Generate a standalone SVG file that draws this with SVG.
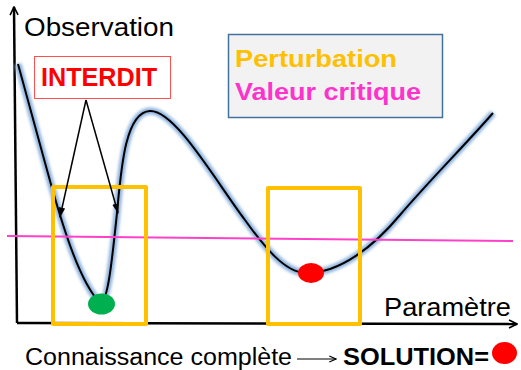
<svg xmlns="http://www.w3.org/2000/svg" width="521" height="370" viewBox="0 0 521 370">
<defs>
<style>
.t{font-family:"Liberation Sans",Arial,sans-serif;}
.b{font-weight:bold;}
.axis{stroke:#000;stroke-width:2.5;fill:none;}
.obox{fill:none;stroke:#ffc000;stroke-width:4;stroke-linejoin:round;}
.thin{stroke:#000;stroke-width:1.5;fill:none;}
</style>
<filter id="glow" x="-10%" y="-10%" width="120%" height="120%"><feGaussianBlur stdDeviation="1.5"/></filter>
<marker id="open" viewBox="0 0 10 10" refX="9" refY="5" markerWidth="4" markerHeight="4" orient="auto" markerUnits="strokeWidth"><path d="M1,1 L9,5 L1,9" fill="none" stroke="#000" stroke-width="1.6"/></marker>
<marker id="open2" viewBox="0 0 10 10" refX="9" refY="5" markerWidth="7" markerHeight="7" orient="auto" markerUnits="strokeWidth"><path d="M1,1.5 L9,5 L1,8.5" fill="none" stroke="#000" stroke-width="1.4"/></marker>
<marker id="fill" viewBox="0 0 10 10" refX="9" refY="5" markerWidth="7" markerHeight="7" orient="auto" markerUnits="strokeWidth"><path d="M0,2 L10,5 L0,8 z" fill="#000"/></marker>
</defs>
<rect width="521" height="370" fill="#fff"/>
<g id="axes">
<path class="axis" d="M17,323 L14,7" marker-end="url(#open)"/>
<path class="axis" d="M17,323 L517,324" marker-end="url(#open)"/>
</g>
<g id="curve">
<path d="M18,64 C28,100 40,145 52,188 C64,230 80,282 100,303 C108,303 112,260 117,213 C121,170 125,112 150,111 C175,110 215,180 245,220 C265,248 285,272 305,273 C340,274 375,245 400,215 C430,180 465,145 493,113" fill="none" stroke="#8fb4de" stroke-width="7" filter="url(#glow)"/>
<path d="M18,64 C28,100 40,145 52,188 C64,230 80,282 100,303 C108,303 112,260 117,213 C121,170 125,112 150,111 C175,110 215,180 245,220 C265,248 285,272 305,273 C340,274 375,245 400,215 C430,180 465,145 493,113" fill="none" stroke="#000" stroke-width="2"/>
</g>
<g id="critical-line">
<line x1="7" y1="236" x2="513" y2="241" stroke="#ff40c8" stroke-width="2"/>
</g>
<g id="box-left"><rect class="obox" x="53" y="187" width="93" height="137"/></g>
<g id="box-right"><rect class="obox" x="268" y="188" width="92" height="136"/></g>
<g id="dot-green"><ellipse cx="101.5" cy="304" rx="13.5" ry="10.5" fill="#00b050"/></g>
<g id="dot-red"><ellipse cx="311" cy="273" rx="13" ry="10" fill="#ff0000"/></g>
<g id="interdit">
<rect x="34.5" y="56.5" width="136" height="42" fill="#fff" stroke="#ff5050" stroke-width="1"/>
<text class="t b" x="41" y="86" font-size="26" fill="#ff0000" textLength="116" lengthAdjust="spacingAndGlyphs">INTERDIT</text>
</g>
<g id="connectors">
<path class="thin" d="M86,100 L60,217" marker-end="url(#fill)"/>
<path class="thin" d="M86,100 L118,213" marker-end="url(#fill)"/>
<path d="M297,359 L336,359" stroke="#000" stroke-width="1.2" fill="none" marker-end="url(#open2)"/>
</g>
<g id="legend">
<rect x="228.5" y="34.5" width="214" height="83" fill="#f2f2f2" stroke="#41719c" stroke-width="1.5"/>
<text class="t b" x="235" y="67" font-size="24" fill="#ffc000" textLength="162" lengthAdjust="spacingAndGlyphs">Perturbation</text>
<text class="t b" x="235" y="100" font-size="24" fill="#ff33cc" textLength="186" lengthAdjust="spacingAndGlyphs">Valeur critique</text>
</g>
<g id="labels">
<text class="t" x="24" y="36" font-size="25" fill="#000" textLength="150" lengthAdjust="spacingAndGlyphs">Observation</text>
<text class="t" x="384" y="316" font-size="25" fill="#000" textLength="127" lengthAdjust="spacingAndGlyphs">Paramètre</text>
<text class="t" x="25" y="365" font-size="23" fill="#000" textLength="267" lengthAdjust="spacingAndGlyphs">Connaissance complète</text>
<text class="t b" x="343" y="365" font-size="24" fill="#000" textLength="146" lengthAdjust="spacingAndGlyphs">SOLUTION=</text>
<ellipse cx="504.5" cy="353" rx="12.5" ry="11" fill="#ff0000"/>
</g>
</svg>
